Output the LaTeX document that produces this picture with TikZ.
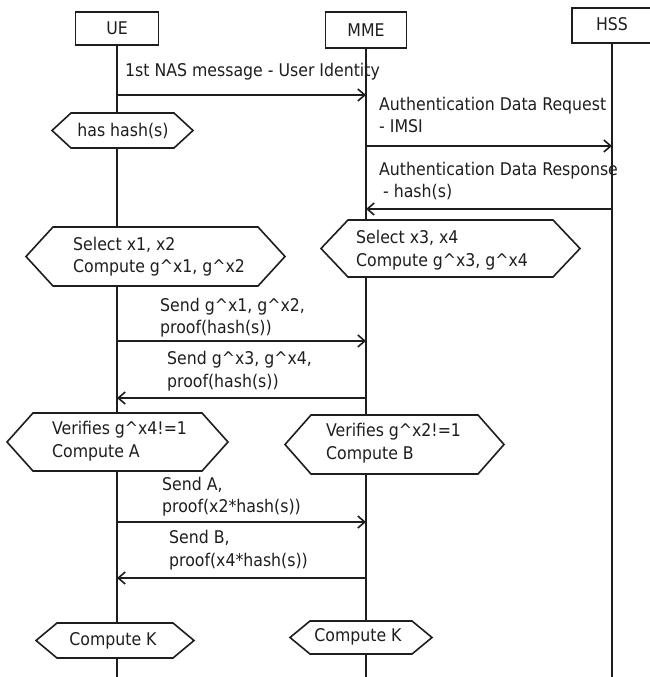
\documentclass[tikz,border=0pt]{standalone}
\usepackage{fontspec}
\setmainfont{DejaVu Sans Condensed}
\usetikzlibrary{arrows.meta}
\definecolor{ink}{HTML}{1E1E1E}
\begin{document}
\begin{tikzpicture}[x=1pt,y=-1pt,
  every node/.style={text=ink,font=\fontsize{17.5}{22.5}\selectfont},
  actor/.style={draw=ink,line width=1.6pt,fill=white,inner sep=0pt},
  life/.style={draw=ink,line width=1.6pt},
  msg/.style={draw=ink,line width=1.6pt,-{Straight Barb[length=7pt,width=12pt]}},
  hexline/.style={draw=ink,line width=1.6pt,fill=white,line join=miter},
  lbl/.style={anchor=west,align=left,inner sep=0pt},
  hextext/.style={align=left,inner sep=0pt}]
\useasboundingbox (0,0) rectangle (650,677);

% hexagon: #1 left, #2 right, #3 top, #4 bottom, #5 point depth
\newcommand\hexshape[5]{%
  \path[hexline] (#1,{(#3+#4)/2}) -- (#1+#5,#3) -- (#2-#5,#3) -- (#2,{(#3+#4)/2})
    -- (#2-#5,#4) -- (#1+#5,#4) -- cycle;}

% participants
\node[actor,minimum width=83pt,minimum height=33pt] (ue)  at (117,28.5) {UE};
\node[actor,minimum width=81pt,minimum height=36pt] (mme) at (366,30)   {\raisebox{-2pt}{MME}};
\node[actor,minimum width=80pt,minimum height=35pt] (hss) at (612,25.5) {\raisebox{3pt}{HSS}};

% lifelines
\coordinate (bot) at (0,677);
\draw[life] (ue.south)  -- (ue  |- bot);
\draw[life] (mme.south) -- (mme |- bot);
\draw[life] (hss.south) -- (hss |- bot);

% message levels
\coordinate (m1) at (0,95);
\coordinate (m2) at (0,146);
\coordinate (m3) at (0,209);
\coordinate (m4) at (0,341);
\coordinate (m5) at (0,398);
\coordinate (m6) at (0,522);
\coordinate (m7) at (0,578);

\draw[msg] (ue |- m1)  -- (mme |- m1);
\node[lbl] (l1) at (125,72) {1st NAS message - User Identity};

\draw[msg] (mme |- m2) -- (hss |- m2);
\node[lbl] (l2) at (379,115) {Authentication Data Request\\- IMSI};

\draw[msg] (hss |- m3) -- (mme |- m3);
\node[lbl] (l3) at (379,181) {Authentication Data Response\\\hspace{4pt}- hash(s)};

% local states and computations
\hexshape{52}{193}{113}{148}{19}
\node[hextext] (h1) at (123,131) {has hash(s)};

\hexshape{26}{285}{227}{286}{27}
\node[hextext,anchor=west] (h2) at (73,256.5) {Select x1, x2\\Compute g\textasciicircum x1, g\textasciicircum x2};

\hexshape{321}{580}{220}{277}{27}
\node[hextext,anchor=west] (h3) at (356,250) {Select x3, x4\\Compute g\textasciicircum x3, g\textasciicircum x4};

\draw[msg] (ue |- m4)  -- (mme |- m4);
\node[lbl] (l4) at (160,317.5) {Send g\textasciicircum x1, g\textasciicircum x2,\\proof(hash(s))};

\draw[msg] (mme |- m5) -- (ue |- m5);
\node[lbl] (l5) at (167,371) {Send g\textasciicircum x3, g\textasciicircum x4,\\proof(hash(s))};

\hexshape{7}{228}{413}{471}{26}
\node[hextext,anchor=west] (h4) at (52,441) {Verifies g\textasciicircum x4!=1\\Compute A};

\hexshape{285}{504}{415}{474}{26}
\node[hextext,anchor=west] (h5) at (326,443) {Verifies g\textasciicircum x2!=1\\Compute B};

\draw[msg] (ue |- m6)  -- (mme |- m6);
\node[lbl] (l6) at (162,496.5) {Send A,\\proof(x2*hash(s))};

\draw[msg] (mme |- m7) -- (ue |- m7);
\node[lbl] (l7) at (169,550) {Send B,\\proof(x4*hash(s))};

\hexshape{36}{194}{623}{658}{21}
\node[hextext] (h6) at (113,641) {Compute K};

\hexshape{290}{432}{621}{654}{20}
\node[hextext] (h7) at (358,637) {Compute K};
\end{tikzpicture}
\end{document}
